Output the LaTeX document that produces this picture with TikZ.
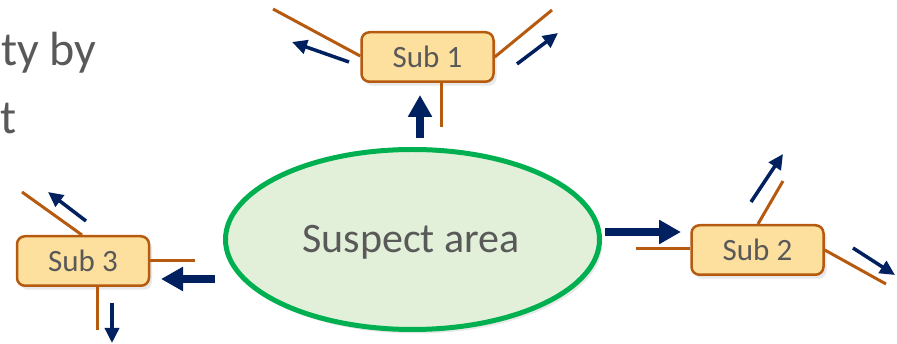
\documentclass[tikz,border=0pt]{standalone}
\usepackage{fontspec}
\setmainfont{Carlito}
\usetikzlibrary{arrows.meta,shadows,shapes.geometric}
\definecolor{txtgray}{HTML}{595959}
\definecolor{navy}{HTML}{002060}
\definecolor{rust}{HTML}{B55A0F}
\definecolor{boxfill}{HTML}{FDDF9E}
\definecolor{areafill}{HTML}{E2F0D9}
\definecolor{areaedge}{HTML}{00B050}

\tikzset{
  subbox/.style={draw=rust, line width=2.5pt, fill=boxfill, rounded corners=8pt,
    minimum width=132pt, minimum height=49.5pt, inner sep=0pt,
    font=\fontsize{31}{31}\selectfont, text=txtgray,
    drop shadow={shadow xshift=3pt, shadow yshift=-4pt, opacity=0.18}},
  tie/.style={draw=rust, line width=3pt},
  flow/.style={draw=navy, line width=3.5pt, -{Triangle[length=15pt,width=14pt]}},
  bigflow/.style={draw=navy, line width=8pt, -{Triangle[length=22pt,width=23pt]}},
  leadtext/.style={font=\fontsize{48}{48}\selectfont, text=txtgray, inner sep=0pt},
}

\begin{document}
\begin{tikzpicture}[x=1pt, y=-1pt]
  \useasboundingbox (0,0) rectangle (897,344);

  % lines of the surrounding paragraph
  \node[leadtext, anchor=base west] (lead1) at (1,66) {ty by};
  \node[leadtext, anchor=base west] (lead2) at (0,134) {t};

  % central area
  \node[ellipse, draw=areaedge, line width=5pt, fill=areafill,
        minimum width=374pt, minimum height=180pt, inner sep=0pt,
        drop shadow={shadow xshift=3pt, shadow yshift=-4pt, opacity=0.18}]
        (area) at (412.5,239.5) {};
  \node[anchor=base, inner sep=0pt, font=\fontsize{42}{42}\selectfont, text=txtgray]
        (arealabel) at (411,253) {Suspect area};

  % sub-areas
  \node[subbox] (s1) at (427.5,57) {Sub 1};
  \node[subbox] (s2) at (757.5,250) {Sub 2};
  \node[subbox] (s3) at (83,261) {Sub 3};

  % free ends of the boundary ties
  \coordinate (t1a) at (273,9);
  \coordinate (t1b) at (552,10);
  \coordinate (t1c) at (441,127);
  \coordinate (t2a) at (636,249);
  \coordinate (t2b) at (783,181);
  \coordinate (t2c) at (886,284);
  \coordinate (t3a) at (22,192);
  \coordinate (t3b) at (195,261);
  \coordinate (t3c) at (97,330);

  % boundary ties
  \draw[tie] (s1.west |- 0,56) -- (t1a);
  \draw[tie] (s1.east |- 0,57) -- (t1b);
  \draw[tie] (s1.south -| 441,0) -- (t1c);
  \draw[tie] (s2.west |- 0,249) -- (t2a);
  \draw[tie] (s2.north -| 758,0) -- (t2b);
  \draw[tie] (s2.east |- 0,250) -- (t2c);
  \draw[tie] (s3.north -| 82,0) -- (t3a);
  \draw[tie] (s3.east |- 0,261) -- (t3b);
  \draw[tie] (s3.south -| 97,0) -- (t3c);

  % flow arrow end points
  \coordinate (f1a0) at (349,62);  \coordinate (f1a1) at (292,42);
  \coordinate (f1b0) at (517,64);  \coordinate (f1b1) at (558,33);
  \coordinate (f2a0) at (751,202); \coordinate (f2a1) at (783,154);
  \coordinate (f2b0) at (853,248); \coordinate (f2b1) at (895,275);
  \coordinate (f3a0) at (86,221);  \coordinate (f3a1) at (48,192);
  \coordinate (f3b0) at (112,303); \coordinate (f3b1) at (112,343);
  \coordinate (g1) at (420,138);   \coordinate (g1t) at (420,95);
  \coordinate (g2) at (605,232);   \coordinate (g2t) at (681,232);
  \coordinate (g3) at (215,279);   \coordinate (g3t) at (161,279);

  % outward flows
  \draw[flow] (f1a0) -- (f1a1);
  \draw[flow] (f1b0) -- (f1b1);
  \draw[flow] (f2a0) -- (f2a1);
  \draw[flow] (f2b0) -- (f2b1);
  \draw[flow] (f3a0) -- (f3a1);
  \draw[flow] (f3b0) -- (f3b1);

  % main flows out of the central area
  \draw[bigflow] (g1) -- (g1t);
  \draw[bigflow] (g2) -- (g2t);
  \draw[bigflow] (g3) -- (g3t);
\end{tikzpicture}
\end{document}
